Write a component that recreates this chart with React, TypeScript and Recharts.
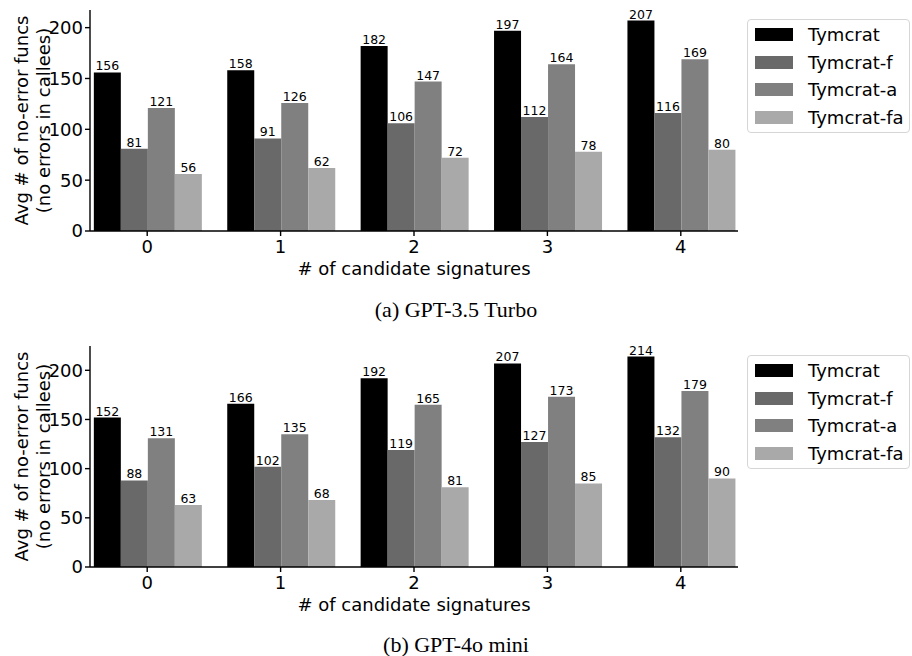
import { BarChart, Bar, XAxis, YAxis, LabelList } from 'recharts';

const CANDIDATES = ['0', '1', '2', '3', '4'];
const SERIES = ['Tymcrat', 'Tymcrat-f', 'Tymcrat-a', 'Tymcrat-fa'];
const COLORS = ['#000000', '#696969', '#808080', '#a9a9a9'];
const Y_TICKS = [0, 50, 100, 150, 200];

// (a) GPT-3.5 Turbo
const TURBO_TYMCRAT = [156, 158, 182, 197, 207];
const TURBO_F = [81, 91, 106, 112, 116];
const TURBO_A = [121, 126, 147, 164, 169];
const TURBO_FA = [56, 62, 72, 78, 80];

// (b) GPT-4o mini
const MINI_TYMCRAT = [152, 166, 192, 207, 214];
const MINI_F = [88, 102, 119, 127, 132];
const MINI_A = [131, 135, 165, 173, 179];
const MINI_FA = [63, 68, 81, 85, 90];

const FONT = '"DejaVu Sans", sans-serif';

function buildRows(cols: number[][]) {
  return CANDIDATES.map((c, i) => {
    const row: Record<string, string | number> = { name: c };
    SERIES.forEach((s, j) => {
      row[s] = cols[j][i];
    });
    return row;
  });
}

const YLabel = ({ viewBox }: any) => {
  const cy = viewBox.y + viewBox.height / 2;
  return (
    <g fontFamily={FONT} fontSize={18} fill="#000">
      <text x={21} y={cy} transform={`rotate(-90, 21, ${cy})`} textAnchor="middle" dominantBaseline="central">
        Avg # of no-error funcs
      </text>
      <text x={43} y={cy} transform={`rotate(-90, 43, ${cy})`} textAnchor="middle" dominantBaseline="central">
        (no errors in callees)
      </text>
    </g>
  );
};

const XLabel = ({ viewBox }: any) => (
  <text
    x={viewBox.x + viewBox.width / 2}
    y={viewBox.y + 37}
    textAnchor="middle"
    dominantBaseline="central"
    fontFamily={FONT}
    fontSize={18}
    fill="#000"
  >
    # of candidate signatures
  </text>
);

const LegendBox = ({ top }: { top: number }) => (
  <div
    style={{
      position: 'absolute',
      left: 747,
      top,
      border: '1px solid #d6d6d6',
      borderRadius: 4,
      background: '#fff',
      padding: '1px 0',
      fontFamily: FONT,
      fontSize: 18,
      color: '#000',
      boxSizing: 'border-box',
      width: 163,
    }}
  >
    {SERIES.map((s, i) => (
      <div key={s} style={{ height: 27.5, display: 'flex', alignItems: 'center' }}>
        <span style={{ display: 'inline-block', width: 38, height: 13, background: COLORS[i], marginLeft: 7, marginRight: 15 }} />
        <span style={{ whiteSpace: 'nowrap' }}>{s}</span>
      </div>
    ))}
  </div>
);

function Panel({ cols, yMax }: { cols: number[][]; yMax: number }) {
  const data = buildRows(cols);
  return (
    <BarChart
      width={912}
      height={290}
      data={data}
      margin={{ top: 10, right: 174, bottom: 0, left: 0 }}
      barGap={0}
      barCategoryGap="10%"
    >
      <XAxis
        dataKey="name"
        height={59}
        padding={{ left: -9.5, right: -9.5 }}
        stroke="#000"
        strokeWidth={1.4}
        tickSize={5}
        tickMargin={4}
        tick={{ fontSize: 18, fill: '#000', fontFamily: FONT }}
        label={<XLabel />}
      />
      <YAxis
        width={90}
        domain={[0, yMax]}
        ticks={Y_TICKS}
        interval={0}
        stroke="#000"
        strokeWidth={1.4}
        tickSize={5}
        tickMargin={2}
        tick={{ fontSize: 18, fill: '#000', fontFamily: FONT }}
        label={<YLabel />}
      />
      {SERIES.map((s, i) => (
        <Bar key={s} dataKey={s} fill={COLORS[i]} isAnimationActive={false}>
          <LabelList dataKey={s} position="top" offset={2} fontSize={12.5} fill="#000" fontFamily={FONT} />
        </Bar>
      ))}
    </BarChart>
  );
}

const captionStyle: React.CSSProperties = {
  position: 'absolute',
  left: 0,
  width: 912,
  textAlign: 'center',
  fontFamily: '"Liberation Serif", "Times New Roman", serif',
  fontSize: 22,
  color: '#000',
  lineHeight: '24px',
};

export default function App() {
  return (
    <div style={{ position: 'absolute', left: 0, top: 0, width: 912, height: 656, background: '#fff', overflow: 'hidden' }}>
      <div style={{ position: 'absolute', left: 0, top: 0 }}>
        <Panel cols={[TURBO_TYMCRAT, TURBO_F, TURBO_A, TURBO_FA]} yMax={217.35} />
      </div>
      <LegendBox top={19} />
      <div style={{ ...captionStyle, top: 298 }}>(a) GPT-3.5 Turbo</div>
      <div style={{ position: 'absolute', left: 0, top: 336 }}>
        <Panel cols={[MINI_TYMCRAT, MINI_F, MINI_A, MINI_FA]} yMax={224.7} />
      </div>
      <LegendBox top={355} />
      <div style={{ ...captionStyle, top: 633 }}>(b) GPT-4o mini</div>
    </div>
  );
}
